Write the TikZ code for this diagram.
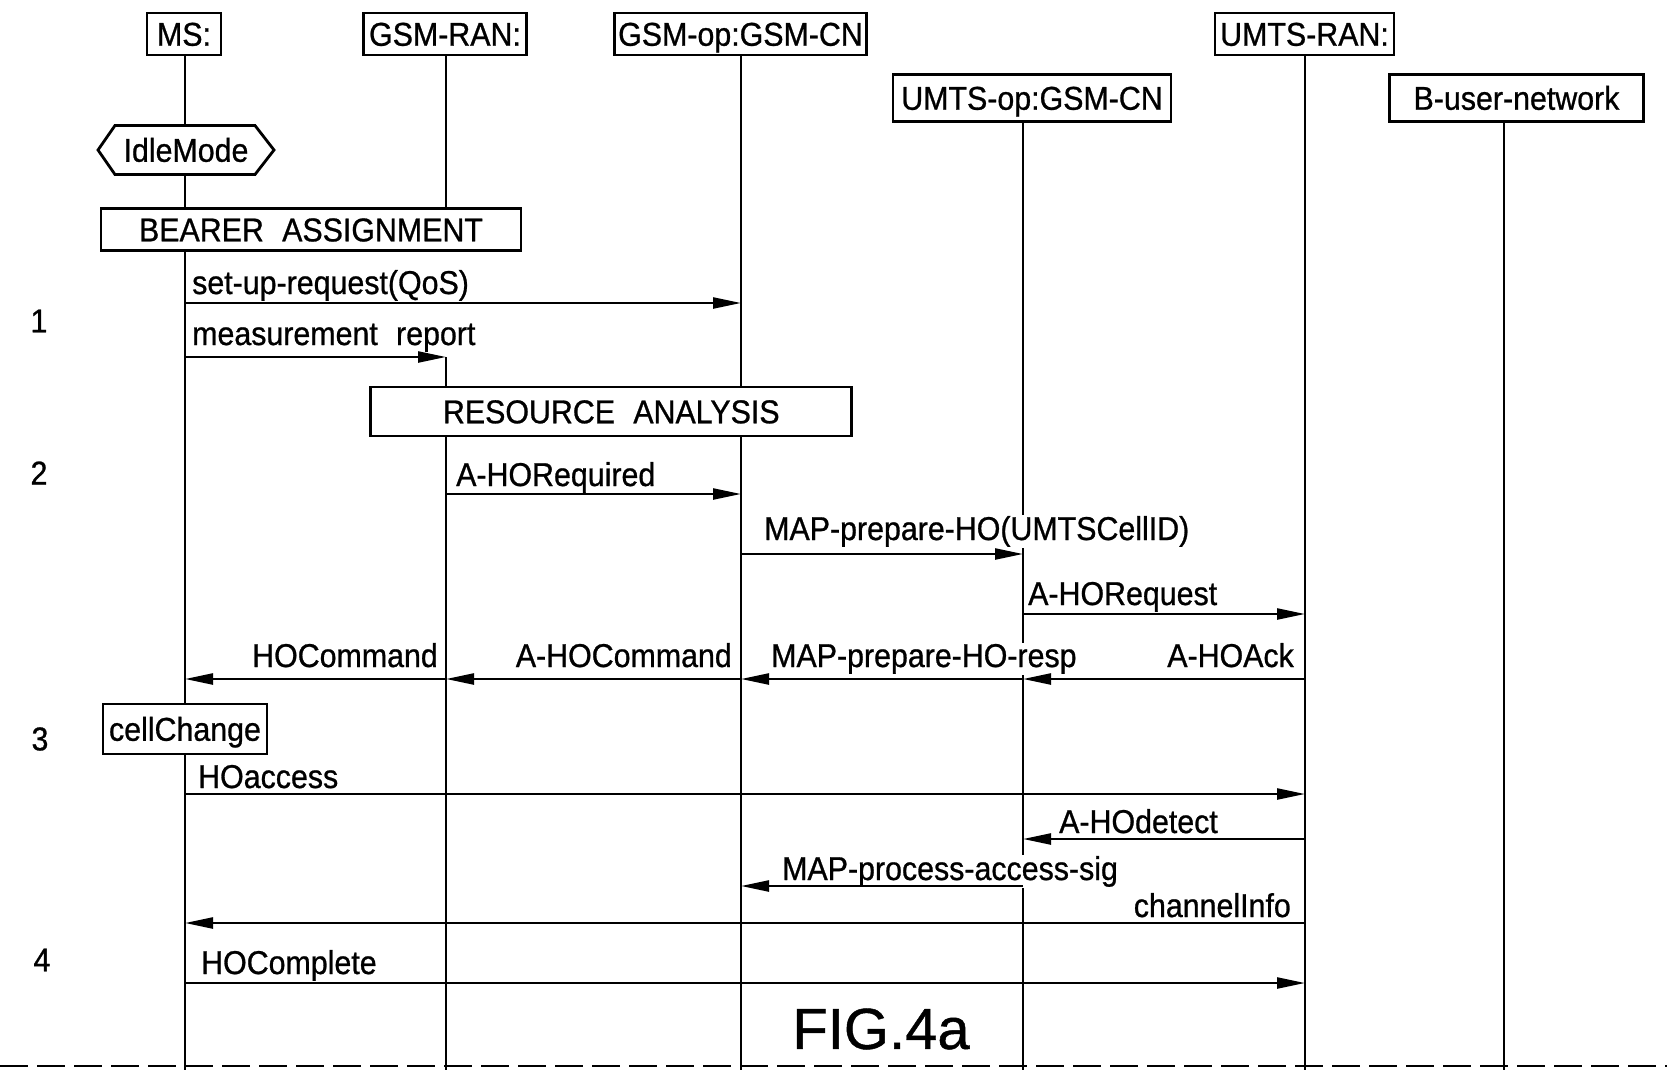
\documentclass[tikz,border=0pt]{standalone}
\usepackage{fontspec}
\setmainfont{Liberation Sans}[FakeStretch=0.92,FakeBold=0.8]
\newfontfamily\figfont{Liberation Sans}[FakeStretch=1.0,FakeBold=0.8]
\usetikzlibrary{arrows.meta}
\begin{document}
\begin{tikzpicture}[x=1pt,y=-1pt,
  every node/.style={font=\fontsize{33}{36}\selectfont},
  hdr/.style={draw,line width=2.8pt,fill=white,inner sep=0pt,text height=23.5pt,text depth=0pt,minimum height=42pt},
  actbox/.style={draw,line width=2.8pt,fill=white,inner sep=0pt,text height=23.5pt,text depth=0pt},
  life/.style={line width=1.8pt},
  msg/.style={line width=2.4pt,-{Triangle[length=28pt,width=11pt]}},
  lbl/.style={inner sep=1pt,anchor=base west,fill=white},
  lblr/.style={inner sep=1pt,anchor=base east,fill=white},
  num/.style={inner sep=0pt}
]
\useasboundingbox (0,0) rectangle (1667,1070);
\def\xa{185}\def\xb{446}\def\xc{741}\def\xd{1023}\def\xe{1305}\def\xf{1504}
% lifelines
\coordinate (laT) at (\xa,55);  \coordinate (laB) at (\xa,1070);
\coordinate (lbT) at (\xb,55);  \coordinate (lbM) at (\xb,230);
\coordinate (lbR) at (\xb,357); \coordinate (lbS) at (\xb,410); \coordinate (lbB) at (\xb,1070);
\coordinate (lcT) at (\xc,55);  \coordinate (lcB) at (\xc,1070);
\coordinate (ldT) at (\xd,121); \coordinate (ldB) at (\xd,1070);
\coordinate (leT) at (\xe,55);  \coordinate (leB) at (\xe,1070);
\coordinate (lfT) at (\xf,121); \coordinate (lfB) at (\xf,1070);
\draw[life] (laT) -- (laB);
\draw[life] (lbT) -- (lbM);
\draw[life] (lbR) -- (lbS);
\draw[life] (lbS) -- (lbB);
\draw[life] (lcT) -- (lcB);
\draw[life] (ldT) -- (ldB);
\draw[life] (leT) -- (leB);
\draw[life] (lfT) -- (lfB);
% headers
\node[hdr,minimum width=74pt] (ms) at (184,34) {MS:};
\node[hdr,minimum width=163pt] (gran) at (445,34) {GSM-RAN:};
\node[hdr,minimum width=252pt] (gop) at (740.5,34) {GSM-op:GSM-CN};
\node[hdr,minimum width=179pt] (uran) at (1304.5,34) {UMTS-RAN:};
\node[hdr,minimum width=278pt,minimum height=47pt] (uop) at (1032,98) {UMTS-op:GSM-CN};
\node[hdr,minimum width=254pt,minimum height=47pt] (buser) at (1516.5,98) {B-user-network};
% idle mode hexagon
\draw[line width=2.8pt,fill=white] (98,150) -- (115,125.5) -- (255,125.5) -- (274,150) -- (255,174.5) -- (115,174.5) -- cycle;
\node[inner sep=0pt,text height=23.5pt,text depth=0pt] (idle) at (186,150) {IdleMode};
% action boxes
\node[actbox,minimum width=420pt,minimum height=42.5pt] (bearer) at (311,229.6) {BEARER\hspace{0.3em} ASSIGNMENT};
\node[actbox,minimum width=481pt,minimum height=49pt] (resource) at (611.3,411.5) {RESOURCE\hspace{0.3em} ANALYSIS};
\node[actbox,minimum width=164pt,minimum height=50pt] (cell) at (185,729) {cellChange};
% message end points
\coordinate (m1s) at (\xa,303); \coordinate (m1e) at (\xc,303);
\coordinate (m2s) at (\xa,357); \coordinate (m2e) at (\xb,357);
\coordinate (m3s) at (\xb,494); \coordinate (m3e) at (\xc,494);
\coordinate (m4s) at (\xc,554); \coordinate (m4e) at (\xd,554);
\coordinate (m5s) at (\xd,614); \coordinate (m5e) at (\xe,614);
\coordinate (r1) at (\xe,679); \coordinate (r2) at (\xd,679);
\coordinate (r3) at (\xc,679); \coordinate (r4) at (\xb,679); \coordinate (r5) at (\xa,679);
\coordinate (m10s) at (\xa,794); \coordinate (m10e) at (\xe,794);
\coordinate (m11s) at (\xe,839); \coordinate (m11e) at (\xd,839);
\coordinate (m12s) at (\xd,886); \coordinate (m12e) at (\xc,886);
\coordinate (m13s) at (\xe,923); \coordinate (m13e) at (\xa,923);
\coordinate (m14s) at (\xa,983); \coordinate (m14e) at (\xe,983);
% labels
\node[lbl] (t1) at (191,294) {set-up-request(QoS)};
\node[lbl] (t2) at (191,345) {measurement\hspace{0.3em} report};
\node[lbl] (t3) at (455,486) {A-HORequired};
\node[lbl] (t4) at (763,540) {MAP-prepare-HO(UMTSCellID)};
\node[lbl] (t5) at (1027,605) {A-HORequest};
\node[lblr] (t6) at (1295,667) {A-HOAck};
\node[lbl] (t7) at (770,667) {MAP-prepare-HO-resp};
\node[lblr] (t8) at (733,667) {A-HOCommand};
\node[lblr] (t9) at (439,667) {HOCommand};
\node[lbl] (t10) at (197,788) {HOaccess};
\node[lbl] (t11) at (1058,833) {A-HOdetect};
\node[lbl] (t12) at (781,880) {MAP-process-access-sig};
\node[lblr] (t13) at (1292,917) {channelInfo};
\node[lbl] (t14) at (200,974) {HOComplete};
% messages
\draw[msg] (m1s) -- (m1e);
\draw[msg] (m2s) -- (m2e);
\draw[msg] (m3s) -- (m3e);
\draw[msg] (m4s) -- (m4e);
\draw[msg] (m5s) -- (m5e);
\draw[msg] (r1) -- (r2);
\draw[msg] (r2) -- (r3);
\draw[msg] (r3) -- (r4);
\draw[msg] (r4) -- (r5);
\draw[msg] (m10s) -- (m10e);
\draw[msg] (m11s) -- (m11e);
\draw[msg] (m12s) -- (m12e);
\draw[msg] (m13s) -- (m13e);
\draw[msg] (m14s) -- (m14e);
% step numbers
\node[num] (n1) at (39,321) {1};
\node[num] (n2) at (39,473) {2};
\node[num] (n3) at (40,739) {3};
\node[num] (n4) at (42,960) {4};
% caption
\node[inner sep=0pt,font=\figfont\fontsize{58}{60}\selectfont] (fig) at (881,1029) {FIG.4a};
% bottom edge
\coordinate (bl) at (0,1066); \coordinate (br) at (1667,1066);
\draw[line width=1.5pt,dash pattern=on 28pt off 9pt] (bl) -- (br);
\end{tikzpicture}
\end{document}
